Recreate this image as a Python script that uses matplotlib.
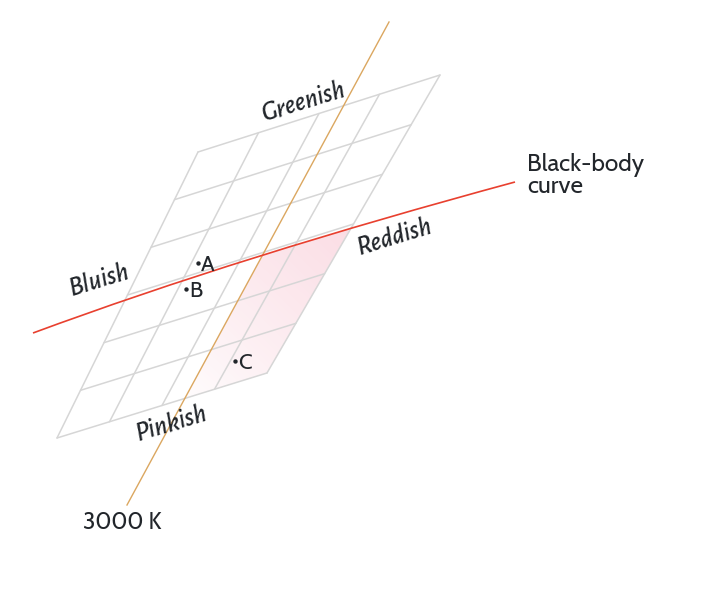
import numpy as np
import matplotlib
matplotlib.use("Agg")
import matplotlib.pyplot as plt
from matplotlib.patches import Polygon, PathPatch
from matplotlib.path import Path
from matplotlib import font_manager
from matplotlib.font_manager import FontProperties

# ---- diagram data (pixel space of a 702x594 canvas) ----
grid_tl = (198, 152)
grid_tr = (440, 75)
grid_bl = (57, 438)
grid_br = (267, 373)
n_cols = 4
n_rows = 6

# black-body curve: start, bezier control, end
bb_x = [33, 241, 515]
bb_y = [333, 256, 182]

iso_x = [389, 127]
iso_y = [22, 505]

pt_names = ["A", "B", "C"]
pt_x = [198, 186, 235]
pt_y = [263, 289, 361]

tint_names = ["Greenish", "Reddish", "Bluish", "Pinkish"]
tint_x = [304, 394, 99, 171]
tint_y = [102, 237, 280, 424]
tint_rot = [17, 17, 17, 17]

W, H = 702, 594
fig = plt.figure(figsize=(W / 100, H / 100), dpi=100)
ax = fig.add_axes([0, 0, 1, 1])
ax.set_xlim(0, W)
ax.set_ylim(H, 0)
ax.axis("off")

TXT = "#22262b"
ttf = font_manager.fontManager.ttflist
names = {f.name for f in ttf}
FONT = [n for n in ["Cabin", "Lato", "DejaVu Sans"] if n in names] + ["DejaVu Sans"]


def wnum(f):
    try:
        return int(f.weight)
    except (TypeError, ValueError):
        return 400


ital_file = None
for fam in ["Alegreya Sans", "Gentium Plus", "DejaVu Sans"]:
    cands = [f for f in ttf if f.name == fam and f.style in ("italic", "oblique")
             and "[" not in f.fname]
    if cands:
        cands.sort(key=lambda f: abs(wnum(f) - 500))
        ital_file = cands[0].fname
        break


def ital_props(size):
    if ital_file:
        return FontProperties(fname=ital_file, size=size)
    return FontProperties(family=FONT, style="italic", size=size)


def lerp(p, q, t):
    return (p[0] + (q[0] - p[0]) * t, p[1] + (q[1] - p[1]) * t)


def seg_intersect(p1, p2, p3, p4):
    x1, y1 = p1; x2, y2 = p2; x3, y3 = p3; x4, y4 = p4
    d = (x1 - x2) * (y3 - y4) - (y1 - y2) * (x3 - x4)
    if abs(d) < 1e-12:
        return None
    t = ((x1 - x3) * (y3 - y4) - (y1 - y3) * (x3 - x4)) / d
    u = -((x1 - x2) * (y1 - y3) - (y1 - y2) * (x1 - x3)) / d
    if -1e-9 <= t <= 1 + 1e-9 and -1e-9 <= u <= 1 + 1e-9:
        return (x1 + t * (x2 - x1), y1 + t * (y2 - y1))
    return None


bb_path = Path(list(zip(bb_x, bb_y)), [Path.MOVETO, Path.CURVE3, Path.CURVE3])
tt = np.linspace(0, 1, 200)[:, None]
P0, P1, P2 = (np.array([bb_x[k], bb_y[k]], dtype=float) for k in range(3))
bb_poly = (1 - tt) ** 2 * P0 + 2 * (1 - tt) * tt * P1 + tt ** 2 * P2


def curve_intersect(a, b):
    for i in range(len(bb_poly) - 1):
        r = seg_intersect(tuple(bb_poly[i]), tuple(bb_poly[i + 1]), a, b)
        if r is not None:
            return r, i
    return None, None


iso_a = (iso_x[0], iso_y[0])
iso_b = (iso_x[1], iso_y[1])

# pink shaded region: below black-body curve, right of the 3000 K line
p_ro, i0 = curve_intersect(iso_a, iso_b)
p_re, i1 = curve_intersect(grid_tr, grid_br)
p_ob = seg_intersect(iso_a, iso_b, grid_bl, grid_br)
poly_pts = [p_ro] + [tuple(p) for p in bb_poly[i0 + 1:i1 + 1]] + [p_re, grid_br, p_ob]
poly = Polygon(poly_pts, closed=True, facecolor="none", edgecolor="none")
ax.add_patch(poly)

xs = np.linspace(0, W, 350)
ys = np.linspace(0, H, 300)
X, Y = np.meshgrid(xs, ys)
d = np.array(p_re) - np.array(p_ob)
proj = ((X - p_ob[0]) * d[0] + (Y - p_ob[1]) * d[1]) / (d @ d)
proj = np.clip(proj, 0, 1)
img = np.zeros((len(ys), len(xs), 4))
img[..., 0] = 0.93
img[..., 1] = 0.42
img[..., 2] = 0.55
img[..., 3] = 0.02 + 0.21 * proj ** 0.9
im = ax.imshow(img, extent=(0, W, H, 0), origin="upper", zorder=1,
               interpolation="bilinear", aspect="auto")
im.set_clip_path(poly)

# grid (bilinear quad)
gc = "#d6d6d6"
for i in range(n_cols + 1):
    t = i / n_cols
    p = lerp(grid_tl, grid_tr, t)
    q = lerp(grid_bl, grid_br, t)
    ax.plot([p[0], q[0]], [p[1], q[1]], color=gc, lw=1.1, zorder=2,
            solid_capstyle="round")
for j in range(n_rows + 1):
    t = j / n_rows
    p = lerp(grid_tl, grid_bl, t)
    q = lerp(grid_tr, grid_br, t)
    ax.plot([p[0], q[0]], [p[1], q[1]], color=gc, lw=1.1, zorder=2,
            solid_capstyle="round")

# 3000 K line and black-body curve
ax.plot(iso_x, iso_y, color="#dba760", lw=1.0, zorder=3)
ax.add_patch(PathPatch(bb_path, facecolor="none", edgecolor="#e8402f",
                       lw=1.2, zorder=4))

# points
ax.scatter(pt_x, pt_y, s=10, color=TXT, zorder=5, linewidths=0)
for n, x, y in zip(pt_names, pt_x, pt_y):
    ax.text(x + 3, y + 2, n, fontsize=16, color=TXT, family=FONT,
            ha="left", va="center", zorder=6)

# tint labels
for n, x, y, r in zip(tint_names, tint_x, tint_y, tint_rot):
    ax.text(x, y, n, fontproperties=ital_props(19.5), color=TXT,
            rotation=r, rotation_mode="anchor", ha="center",
            va="center", zorder=6)

ax.text(527, 176, "Black-body\ncurve", fontsize=17.5, color=TXT, family=FONT,
        ha="left", va="center", linespacing=0.92, zorder=6)
ax.text(83, 523, "3000 K", fontsize=16.5, color=TXT, family=FONT,
        ha="left", va="center", zorder=6)

fig.savefig("out.png", dpi=100, facecolor="white")
